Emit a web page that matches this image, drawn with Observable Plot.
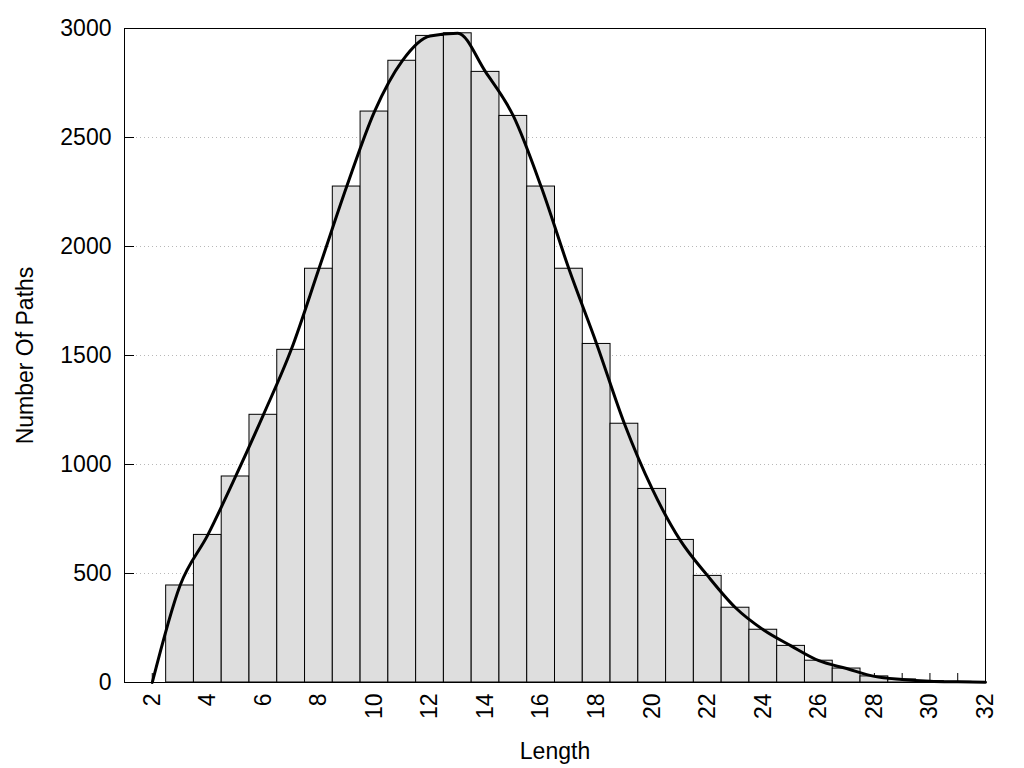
<!DOCTYPE html>
<html>
<head>
<meta charset="utf-8">
<script src="https://cdn.jsdelivr.net/npm/d3@7"></script>
<script src="https://cdn.jsdelivr.net/npm/@observablehq/plot@0.6"></script>
<style>
  html, body { margin: 0; padding: 0; background: #fff; }
</style>
</head>
<body>
<div id="chart"></div>
<script>
// Path lengths (bar centres) and number of paths for each length
const lengths = [3, 4, 5, 6, 7, 8, 9, 10, 11, 12, 13, 14, 15, 16, 17, 18, 19, 20, 21, 22, 23, 24, 25, 26, 27, 28, 29, 30, 31];
const counts  = [445, 677, 945, 1228, 1526, 1898, 2275, 2619, 2852, 2966, 2978, 2801, 2599, 2275, 1898, 1553, 1187, 888, 654, 489, 343, 242, 168, 100, 64, 28, 14, 6, 3];

// Smoothed curve points (starts at length 2 with zero paths, ends at 32)
const curveX = [2, 3, 4, 5, 6, 7, 8, 9, 10, 11, 12, 13, 14, 15, 16, 17, 18, 19, 20, 21, 22, 23, 24, 25, 26, 27, 28, 29, 30, 31, 32];
const curveY = [0, 445, 677, 945, 1228, 1526, 1898, 2275, 2619, 2852, 2966, 2978, 2801, 2599, 2275, 1898, 1553, 1187, 888, 654, 489, 343, 242, 168, 100, 64, 28, 14, 6, 3, 1];

// Axis ticks
const xLabelTicks = [2, 4, 6, 8, 10, 12, 14, 16, 18, 20, 22, 24, 26, 28, 30, 32];
const xMinorTicks = [2, 3, 4, 5, 6, 7, 8, 9, 10, 11, 12, 13, 14, 15, 16, 17, 18, 19, 20, 21, 22, 23, 24, 25, 26, 27, 28, 29, 30, 31];
const yTicks = [0, 500, 1000, 1500, 2000, 2500, 3000];
const yGrid = [500, 1000, 1500, 2000, 2500];

const bars = lengths.map((l, i) => ({length: l, count: counts[i]}));
const curve = curveX.map((x, i) => ({x, y: curveY[i]}));

const W = 1024, H = 768, mL = 124, mR = 39, mT = 28, mB = 86;
const frameW = W - mL - mR, frameH = H - mT - mB;
const yTickLen = 10, xTickLen = 9;

const chart = Plot.plot({
  width: W,
  height: H,
  marginLeft: mL,
  marginRight: mR,
  marginTop: mT,
  marginBottom: mB,
  style: {fontFamily: "'Liberation Sans', Arial, sans-serif", fontSize: "23px", background: "white", color: "black"},
  x: {domain: [1, 32]},
  y: {domain: [0, 3000]},
  marks: [
    Plot.gridY(yGrid, {stroke: "#b8b8b8", strokeOpacity: 1, strokeDasharray: "1,3"}),
    Plot.tickX(xMinorTicks, {x: d => d, stroke: "black", insetTop: frameH - xTickLen}),
    Plot.rectY(bars, {x1: d => d.length - 0.5, x2: d => d.length + 0.5, y: "count", fill: "#dedede", stroke: "black", strokeWidth: 1}),
    Plot.line(curve, {x: "x", y: "y", curve: "monotone-x", stroke: "black", strokeWidth: 3}),
    Plot.frame({stroke: "black", strokeWidth: 1}),
    Plot.tickY(yTicks, {y: d => d, stroke: "black", insetRight: frameW - yTickLen}),
    Plot.axisY(yTicks, {tickSize: 0, tickPadding: 13, tickFormat: d => String(d), label: "Number Of Paths", labelAnchor: "center", labelOffset: 108, labelArrow: "none"}),
    Plot.axisX(xLabelTicks, {tickSize: 0, tickPadding: 11, tickRotate: -90, tickFormat: d => String(d), label: "Length", labelAnchor: "center", labelOffset: 76, labelArrow: "none"})
  ]
});
document.getElementById("chart").appendChild(chart);
</script>
</body>
</html>
